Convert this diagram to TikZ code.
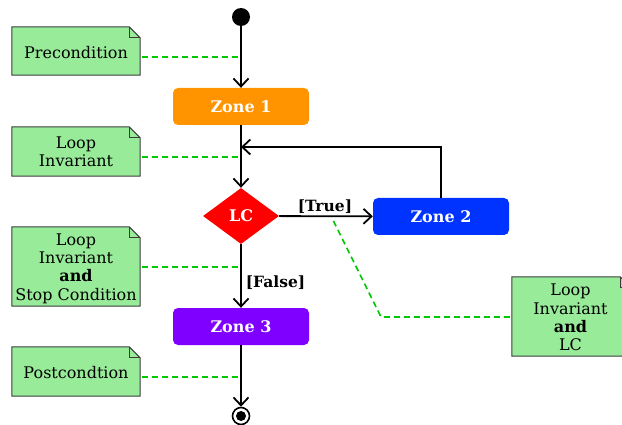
\documentclass[tikz,border=0pt]{standalone}
\usepackage{fontspec}
\setmainfont{DejaVu Serif}
\usetikzlibrary{shapes.geometric,arrows.meta}
\definecolor{zorange}{RGB}{255,148,0}
\definecolor{zblue}{RGB}{0,51,255}
\definecolor{zpurple}{RGB}{127,0,255}
\definecolor{zred}{RGB}{255,0,0}
\definecolor{notegreen}{RGB}{152,235,152}
\definecolor{noteborder}{RGB}{60,60,60}
\definecolor{dashgreen}{RGB}{0,200,0}
\tikzset{
  zone/.style={rectangle, rounded corners=5pt, minimum width=136pt, minimum height=37pt, inner sep=0pt, text=white, font=\fontsize{16}{18}\selectfont\bfseries},
  notebox/.style={inner sep=0pt, align=center, font=\fontsize{16}{18.3}\selectfont},
  notedraw/.style={fill=notegreen, draw=noteborder, line width=1pt},
  arr/.style={line width=1.8pt, -{Straight Barb[length=8pt,width=15pt,line width=1.8pt]}},
  dline/.style={draw=dashgreen, line width=1.6pt, dash pattern=on 6pt off 4pt},
  lbl/.style={font=\fontsize{15.5}{18}\selectfont\bfseries, inner sep=0pt}
}
\newcommand{\notefold}[1]{%
  \draw[notedraw] (#1.south west) -- (#1.north west) -- ([xshift=-11pt]#1.north east) -- ([yshift=-11pt]#1.north east) -- (#1.south east) -- cycle;
  \draw[draw=noteborder, line width=1pt] ([xshift=-11pt]#1.north east) -- ([xshift=-11pt,yshift=-11pt]#1.north east) -- ([yshift=-11pt]#1.north east);
}
\begin{document}
\begin{tikzpicture}[x=1pt,y=-1pt]
\useasboundingbox (0,0) rectangle (622,425);
% notes (background shapes first)
\node[notebox, minimum width=128pt, minimum height=48pt] (n1) at (76,51) {};
\node[notebox, minimum width=128pt, minimum height=49pt] (n2) at (76,151.5) {};
\node[notebox, minimum width=128pt, minimum height=79pt] (n3) at (76,266.5) {};
\node[notebox, minimum width=128pt, minimum height=49pt] (n4) at (76,371.5) {};
\node[notebox, minimum width=119pt, minimum height=79pt] (n5) at (571.5,316.5) {};
\notefold{n1}\notefold{n2}\notefold{n3}\notefold{n4}\notefold{n5}
\node[notebox] at ([yshift=-2pt]n1.center) {Precondition};
\node[notebox] at ([yshift=-0.5pt]n2.center) {Loop\\Invariant};
\node[notebox] at ([yshift=-2pt]n3.center) {Loop\\Invariant\\\textbf{and}\\Stop Condition};
\node[notebox] at ([yshift=-1pt]n4.center) {Postcondtion};
\node[notebox] at ([xshift=-1pt,yshift=-1pt]n5.center) {Loop\\Invariant\\\textbf{and}\\LC};
% main flow
\node[circle, fill=black, minimum size=18pt, inner sep=0pt] (start) at (241,17) {};
\node[zone, fill=zorange] (z1) at (241,106.5) {Zone 1};
\node[diamond, fill=zred, minimum width=76pt, minimum height=56pt, inner sep=0pt, text=white, font=\fontsize{16}{18}\selectfont\bfseries] (lc) at (241,216) {LC};
\node[zone, fill=zblue] (z2) at (441,216.5) {Zone 2};
\node[zone, fill=zpurple] (z3) at (241,326.5) {Zone 3};
\node[circle, draw=black, line width=1.6pt, fill=white, minimum size=17pt, inner sep=0pt] (stop) at (241,416) {};
\node[circle, fill=black, minimum size=10pt, inner sep=0pt] at (stop) {};
\coordinate (loopin) at (241,147);
\coordinate (bend) at (381,317);
\coordinate (tip) at (332,218);
% connectors
\draw[arr] (start) -- (z1);
\draw[arr] (z1) -- (lc);
\draw[arr] (lc) -- node[lbl, above, yshift=1.5pt, xshift=-1pt] {[True]} (z2);
\draw[arr] (lc) -- node[lbl, right, xshift=4pt, yshift=-7pt] {[False]} (z3);
\draw[arr] (z3) -- (stop);
\draw[arr] (z2.north) |- (loopin);
% dashed note links
\draw[dline] ([xshift=2pt,yshift=-6pt]n1.east) -- ([yshift=-6pt]n1.east -| start);
\draw[dline] ([xshift=2pt,yshift=-5.5pt]n2.east) -- ([yshift=-5.5pt]n2.east -| start);
\draw[dline] ([xshift=2pt,yshift=-0.5pt]n3.east) -- ([yshift=-0.5pt]n3.east -| start);
\draw[dline] ([xshift=2pt,yshift=-5.5pt]n4.east) -- ([yshift=-5.5pt]n4.east -| start);
\draw[dline] ([xshift=-2pt]n5.west |- bend) -- (bend) -- (tip);
\end{tikzpicture}
\end{document}
